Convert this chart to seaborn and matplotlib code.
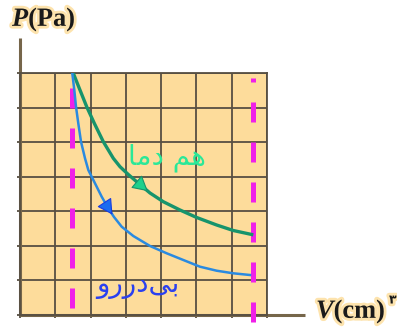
import numpy as np
import matplotlib
matplotlib.use("Agg")
import matplotlib.pyplot as plt
import matplotlib.patheffects as pe
import seaborn as sns

# grid cells (no numbers shown on the axes)
grid_x = np.arange(8)
grid_y = np.arange(8)

# magenta dashed lines: start / end volume
v_marks = [1.47, 6.6]
v_mark_top = [6.94, 6.86]
v_mark_bottom = [0.2, -0.2]

# isothermal curve (green)
iso_v = [1.511, 1.700, 1.890, 2.106, 2.361, 2.644, 2.834, 3.069, 3.316, 3.684,
         4.061, 4.534, 5.008, 5.574, 6.045, 6.566]
iso_p = [6.991, 6.508, 6.025, 5.545, 5.013, 4.533, 4.290, 4.064, 3.847, 3.529,
         3.277, 3.037, 2.820, 2.603, 2.444, 2.329]

# adiabatic curve (blue)
adi_v = [1.482, 1.539, 1.587, 1.652, 1.729, 1.842, 1.936, 2.125, 2.315, 2.502,
         2.664, 2.882, 3.211, 3.684, 4.157, 4.628, 5.101, 5.574, 6.045, 6.518]
adi_p = [6.991, 6.508, 6.025, 5.545, 5.013, 4.533, 4.194, 3.810, 3.422, 3.086,
         2.835, 2.554, 2.285, 1.996, 1.785, 1.591, 1.397, 1.281, 1.206, 1.157]

# Persian labels in visual (shaped) order: "هم دما" and "بی دررو"
iso_label = "\uFE8E\uFEE3\uFEA9 \uFEE2\uFEEB"
adi_label = "\uFEED\uFEAD\uFEAD\uFEA9\uFBFD\uFE91"

peach = "#fddc9b"
grid_col = "#574f43"
axis_col = "#76664a"

fig = plt.figure(figsize=(3.97, 3.29), dpi=100)
ax = fig.add_axes([20 / 397, 14 / 329, 247 / 397, 242 / 329])
ax.set_facecolor(peach)

ax.set_xlim(grid_x[0], grid_x[-1])
ax.set_ylim(grid_y[0], grid_y[-1])
ax.set_xticks(grid_x)
ax.set_yticks(grid_y)
ax.set_xticklabels([])
ax.set_yticklabels([])
ax.tick_params(length=2.5, width=1.3, color=grid_col, direction="out")
ax.grid(True, color=grid_col, lw=1.3)
ax.set_axisbelow(True)
for s in ax.spines.values():
    s.set_color(grid_col)
    s.set_linewidth(1.3)

# long axis lines
ax.plot([0, 0], [0, 1.145], transform=ax.transAxes, color=axis_col, lw=2.2, clip_on=False, solid_capstyle="butt")
ax.plot([0, 1.154], [0, 0], transform=ax.transAxes, color=axis_col, lw=2.2, clip_on=False, solid_capstyle="butt")

# dashed volume markers
ax.vlines(v_marks, v_mark_bottom, v_mark_top, colors="#f020e8", lw=3.6,
          linestyles=(0, (4, 4)), clip_on=False, zorder=3)

sns.lineplot(x=iso_v, y=iso_p, ax=ax, color="#17946c", lw=2.4, estimator=None, sort=False, zorder=4)
sns.lineplot(x=adi_v, y=adi_p, ax=ax, color="#2a8ae0", lw=1.8, estimator=None, sort=False, zorder=4)

# direction arrows on the curves
head = "-|>,head_length=0.6,head_width=0.33"
ax.annotate("", xy=(iso_v[9], iso_p[9]), xytext=(iso_v[8], iso_p[8]),
            arrowprops=dict(arrowstyle=head, mutation_scale=16, fc="#1fd08c", ec="#17946c", lw=0.8), zorder=5)
ax.annotate("", xy=(adi_v[10], adi_p[10]), xytext=(adi_v[9], adi_p[9]),
            arrowprops=dict(arrowstyle=head, mutation_scale=16, fc="#1a6cf0", ec="#1a3ce0", lw=0.8), zorder=5)

ax.text(4.17, 4.54, iso_label, color="#2ae898", fontsize=20, family="DejaVu Sans",
        ha="center", va="center", zorder=6)
ax.text(3.34, 0.88, adi_label, color="#2a40f0", fontsize=20, family="DejaVu Sans",
        ha="center", va="center", zorder=6)

glow = [pe.withStroke(linewidth=4, foreground="#fde3ad")]
plt.rcParams["mathtext.fontset"] = "custom"
plt.rcParams["mathtext.it"] = "Liberation Serif:italic:bold"
plt.rcParams["mathtext.rm"] = "Liberation Serif:bold"
fig.text(12 / 397, 1 - 20 / 329, r"$P$(Pa)", fontsize=19, family="Liberation Serif",
         weight="bold", color="#1a1a1a", ha="left", va="center", path_effects=glow)
fig.text(316 / 397, 1 - 312 / 329, r"$V$(cm)", fontsize=19, family="Liberation Serif",
         weight="bold", color="#1a1a1a", ha="left", va="center", path_effects=glow)
fig.text(389 / 397, 1 - 300 / 329, "\u06F3", fontsize=9, family="DejaVu Sans",
         weight="bold", color="#1a1a1a", ha="left", va="center", path_effects=glow)

fig.savefig("out.png", dpi=100)
